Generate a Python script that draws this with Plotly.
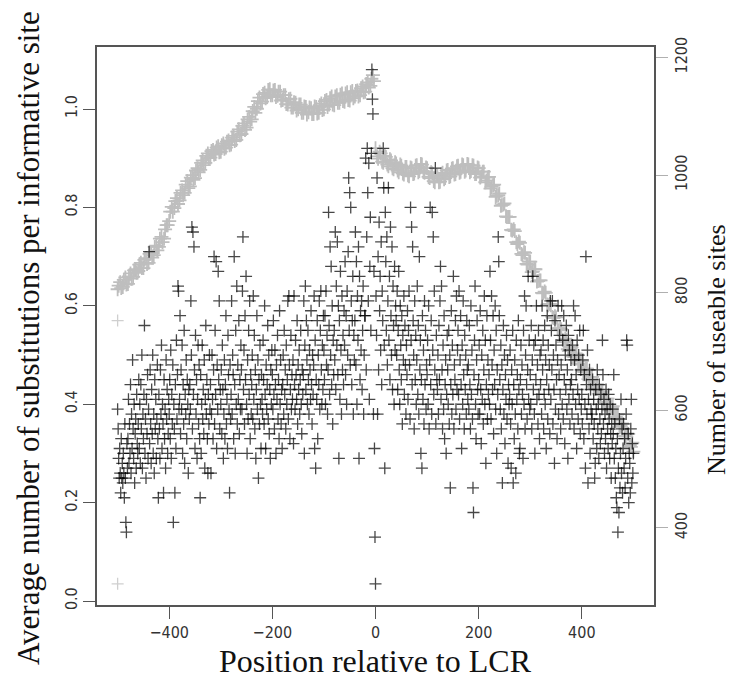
import plotly.graph_objects as go

# Average substitutions per informative site, one value per position (-500 .. 500)
subst_pos = list(range(-500, 501))
subst_vals = [
    # -500 .. -481
    0.39, 0.35, 0.29, 0.25, 0.31, 0.26, 0.22, 0.33, 0.25, 0.28, 0.24, 0.30, 0.26, 0.21, 0.36, 0.25, 0.16, 0.14, 0.32, 0.27,
    # -480 .. -461
    0.33, 0.41, 0.28, 0.36, 0.30, 0.44, 0.26, 0.38, 0.31, 0.49, 0.35, 0.29, 0.40, 0.24, 0.34, 0.37, 0.27, 0.42, 0.32, 0.30,
    # -460 .. -441
    0.36, 0.45, 0.31, 0.40, 0.28, 0.44, 0.35, 0.50, 0.27, 0.38, 0.33, 0.42, 0.56, 0.30, 0.37, 0.25, 0.41, 0.34, 0.46, 0.29,
    # -440 .. -421
    0.39, 0.71, 0.32, 0.47, 0.36, 0.28, 0.43, 0.34, 0.50, 0.30, 0.38, 0.26, 0.45, 0.35, 0.41, 0.29, 0.37, 0.48, 0.33, 0.21,
    # -420 .. -401
    0.42, 0.35, 0.29, 0.47, 0.38, 0.52, 0.31, 0.40, 0.36, 0.22, 0.45, 0.33, 0.39, 0.27, 0.49, 0.37, 0.43, 0.30, 0.34, 0.41,
    # -400 .. -381
    0.38, 0.45, 0.33, 0.51, 0.29, 0.42, 0.36, 0.48, 0.16, 0.40, 0.35, 0.22, 0.44, 0.31, 0.53, 0.37, 0.46, 0.64, 0.63, 0.39,
    # -380 .. -361
    0.41, 0.58, 0.34, 0.47, 0.39, 0.52, 0.30, 0.44, 0.36, 0.55, 0.28, 0.42, 0.38, 0.49, 0.33, 0.45, 0.40, 0.26, 0.43, 0.37,
    # -360 .. -341
    0.44, 0.39, 0.61, 0.50, 0.76, 0.35, 0.75, 0.42, 0.72, 0.47, 0.31, 0.54, 0.38, 0.45, 0.29, 0.41, 0.52, 0.36, 0.48, 0.33,
    # -340 .. -321
    0.21, 0.46, 0.30, 0.40, 0.52, 0.37, 0.43, 0.34, 0.49, 0.27, 0.41, 0.56, 0.38, 0.45, 0.33, 0.26, 0.42, 0.36, 0.50, 0.39,
    # -320 .. -301
    0.44, 0.26, 0.38, 0.50, 0.41, 0.33, 0.47, 0.70, 0.36, 0.55, 0.42, 0.69, 0.31, 0.48, 0.39, 0.67, 0.45, 0.61, 0.35, 0.43,
    # -300 .. -281
    0.40, 0.47, 0.34, 0.52, 0.43, 0.29, 0.38, 0.49, 0.33, 0.44, 0.58, 0.36, 0.41, 0.31, 0.54, 0.46, 0.39, 0.22, 0.48, 0.37,
    # -280 .. -261
    0.42, 0.61, 0.38, 0.50, 0.46, 0.33, 0.70, 0.44, 0.30, 0.55, 0.40, 0.64, 0.36, 0.48, 0.41, 0.57, 0.34, 0.45, 0.39, 0.52,
    # -260 .. -241
    0.47, 0.39, 0.63, 0.74, 0.43, 0.51, 0.36, 0.58, 0.45, 0.66, 0.40, 0.30, 0.49, 0.37, 0.55, 0.42, 0.61, 0.33, 0.46, 0.38,
    # -240 .. -221
    0.44, 0.50, 0.37, 0.62, 0.41, 0.54, 0.35, 0.47, 0.29, 0.43, 0.58, 0.39, 0.49, 0.25, 0.45, 0.36, 0.52, 0.40, 0.31, 0.46,
    # -220 .. -201
    0.41, 0.38, 0.53, 0.45, 0.36, 0.60, 0.42, 0.31, 0.48, 0.39, 0.44, 0.56, 0.37, 0.50, 0.34, 0.43, 0.29, 0.47, 0.40, 0.51,
    # -200 .. -181
    0.46, 0.39, 0.57, 0.42, 0.35, 0.51, 0.44, 0.30, 0.48, 0.41, 0.54, 0.37, 0.45, 0.33, 0.59, 0.40, 0.49, 0.36, 0.43, 0.31,
    # -180 .. -161
    0.44, 0.50, 0.38, 0.55, 0.42, 0.47, 0.35, 0.52, 0.40, 0.45, 0.61, 0.37, 0.62, 0.48, 0.33, 0.43, 0.54, 0.39, 0.46, 0.41,
    # -160 .. -141
    0.49, 0.32, 0.62, 0.44, 0.39, 0.53, 0.46, 0.41, 0.57, 0.36, 0.48, 0.43, 0.51, 0.38, 0.45, 0.55, 0.40, 0.34, 0.47, 0.42,
    # -140 .. -121
    0.46, 0.61, 0.30, 0.52, 0.64, 0.43, 0.57, 0.49, 0.40, 0.55, 0.45, 0.38, 0.51, 0.47, 0.41, 0.59, 0.44, 0.36, 0.50, 0.42,
    # -120 .. -101
    0.48, 0.62, 0.31, 0.53, 0.27, 0.45, 0.41, 0.57, 0.33, 0.50, 0.44, 0.61, 0.39, 0.55, 0.63, 0.47, 0.40, 0.52, 0.43, 0.58,
    # -100 .. -81
    0.51, 0.45, 0.58, 0.40, 0.63, 0.48, 0.54, 0.38, 0.47, 0.79, 0.56, 0.42, 0.72, 0.50, 0.68, 0.44, 0.60, 0.36, 0.53, 0.46,
    # -80 .. -61
    0.55, 0.49, 0.75, 0.43, 0.64, 0.52, 0.73, 0.46, 0.60, 0.29, 0.57, 0.41, 0.67, 0.51, 0.38, 0.62, 0.47, 0.54, 0.44, 0.59,
    # -60 .. -41
    0.52, 0.69, 0.46, 0.58, 0.40, 0.63, 0.50, 0.71, 0.86, 0.55, 0.83, 0.48, 0.80, 0.61, 0.44, 0.57, 0.66, 0.38, 0.54, 0.49,
    # -40 .. -21
    0.57, 0.75, 0.48, 0.69, 0.40, 0.62, 0.53, 0.72, 0.29, 0.66, 0.45, 0.59, 0.51, 0.61, 0.43, 0.55, 0.64, 0.38, 0.50, 0.58,
    # -20 .. -1
    0.58, 0.90, 0.47, 0.74, 0.92, 0.83, 0.61, 0.89, 0.41, 0.68, 0.78, 0.55, 0.91, 1.08, 1.02, 0.99, 0.38, 0.67, 0.31, 0.13,
    # 0 .. 19
    0.035, 0.62, 0.54, 0.86, 0.38, 0.70, 0.47, 0.77, 0.59, 0.66, 0.51, 0.73, 0.44, 0.63, 0.57, 0.92, 0.84, 0.52, 0.27, 0.79,
    # 20 .. 39
    0.69, 0.55, 0.74, 0.48, 0.61, 0.84, 0.53, 0.66, 0.45, 0.76, 0.58, 0.50, 0.72, 0.43, 0.64, 0.56, 0.40, 0.68, 0.51, 0.60,
    # 40 .. 59
    0.57, 0.50, 0.63, 0.43, 0.55, 0.67, 0.47, 0.40, 0.60, 0.52, 0.45, 0.58, 0.36, 0.54, 0.49, 0.62, 0.42, 0.56, 0.48, 0.38,
    # 60 .. 79
    0.52, 0.46, 0.59, 0.41, 0.55, 0.63, 0.48, 0.37, 0.80, 0.53, 0.76, 0.44, 0.72, 0.57, 0.50, 0.35, 0.61, 0.45, 0.54, 0.40,
    # 80 .. 99
    0.49, 0.64, 0.42, 0.56, 0.38, 0.70, 0.47, 0.53, 0.30, 0.45, 0.27, 0.58, 0.41, 0.51, 0.36, 0.61, 0.44, 0.55, 0.39, 0.48,
    # 100 .. 119
    0.46, 0.53, 0.40, 0.60, 0.35, 0.49, 0.80, 0.44, 0.57, 0.38, 0.79, 0.51, 0.74, 0.42, 0.63, 0.47, 0.88, 0.36, 0.54, 0.45,
    # 120 .. 139
    0.43, 0.50, 0.38, 0.56, 0.45, 0.61, 0.68, 0.41, 0.64, 0.47, 0.35, 0.52, 0.39, 0.58, 0.33, 0.44, 0.49, 0.30, 0.42, 0.54,
    # 140 .. 159
    0.47, 0.40, 0.55, 0.36, 0.50, 0.23, 0.44, 0.59, 0.38, 0.52, 0.42, 0.66, 0.35, 0.48, 0.45, 0.57, 0.39, 0.62, 0.43, 0.51,
    # 160 .. 179
    0.55, 0.42, 0.63, 0.37, 0.49, 0.58, 0.44, 0.31, 0.52, 0.40, 0.61, 0.46, 0.35, 0.54, 0.43, 0.50, 0.38, 0.57, 0.47, 0.41,
    # 180 .. 199
    0.48, 0.39, 0.56, 0.44, 0.35, 0.60, 0.42, 0.51, 0.37, 0.23, 0.18, 0.46, 0.53, 0.64, 0.40, 0.33, 0.49, 0.57, 0.43, 0.38,
    # 200 .. 219
    0.45, 0.52, 0.38, 0.59, 0.43, 0.32, 0.50, 0.41, 0.55, 0.36, 0.47, 0.62, 0.40, 0.53, 0.28, 0.44, 0.58, 0.37, 0.49, 0.42,
    # 220 .. 239
    0.46, 0.40, 0.67, 0.53, 0.37, 0.62, 0.48, 0.43, 0.58, 0.34, 0.51, 0.44, 0.60, 0.39, 0.55, 0.30, 0.47, 0.42, 0.74, 0.69,
    # 240 .. 259
    0.58, 0.45, 0.39, 0.52, 0.35, 0.48, 0.24, 0.43, 0.56, 0.38, 0.50, 0.32, 0.46, 0.41, 0.54, 0.37, 0.49, 0.28, 0.44, 0.40,
    # 260 .. 279
    0.42, 0.51, 0.36, 0.27, 0.47, 0.40, 0.55, 0.24, 0.44, 0.33, 0.49, 0.38, 0.26, 0.53, 0.41, 0.46, 0.35, 0.57, 0.43, 0.30,
    # 280 .. 299
    0.31, 0.45, 0.52, 0.38, 0.48, 0.42, 0.29, 0.55, 0.40, 0.62, 0.35, 0.50, 0.60, 0.44, 0.37, 0.47, 0.66, 0.41, 0.53, 0.39,
    # 300 .. 319
    0.46, 0.40, 0.56, 0.35, 0.49, 0.66, 0.43, 0.52, 0.38, 0.30, 0.53, 0.45, 0.60, 0.41, 0.48, 0.36, 0.55, 0.42, 0.33, 0.50,
    # 320 .. 339
    0.44, 0.51, 0.38, 0.60, 0.47, 0.53, 0.35, 0.42, 0.56, 0.40, 0.49, 0.31, 0.45, 0.58, 0.37, 0.52, 0.43, 0.48, 0.34, 0.61,
    # 340 .. 359
    0.41, 0.55, 0.47, 0.61, 0.36, 0.50, 0.43, 0.28, 0.57, 0.39, 0.52, 0.45, 0.33, 0.49, 0.60, 0.38, 0.46, 0.54, 0.42, 0.35,
    # 360 .. 379
    0.48, 0.60, 0.40, 0.53, 0.37, 0.58, 0.45, 0.32, 0.50, 0.43, 0.56, 0.39, 0.47, 0.29, 0.54, 0.41, 0.51, 0.36, 0.44, 0.49,
    # 380 .. 399
    0.45, 0.38, 0.52, 0.42, 0.60, 0.35, 0.49, 0.58, 0.40, 0.46, 0.31, 0.53, 0.43, 0.37, 0.50, 0.41, 0.55, 0.34, 0.47, 0.39,
    # 400 .. 419
    0.42, 0.36, 0.49, 0.55, 0.33, 0.46, 0.40, 0.27, 0.70, 0.44, 0.38, 0.51, 0.24, 0.41, 0.35, 0.47, 0.30, 0.43, 0.39, 0.37,
    # 420 .. 439
    0.38, 0.45, 0.33, 0.41, 0.36, 0.25, 0.28, 0.43, 0.39, 0.31, 0.47, 0.35, 0.40, 0.29, 0.44, 0.37, 0.32, 0.42, 0.34, 0.39,
    # 440 .. 459
    0.53, 0.46, 0.36, 0.41, 0.30, 0.38, 0.33, 0.43, 0.27, 0.39, 0.35, 0.31, 0.42, 0.37, 0.29, 0.40, 0.34, 0.25, 0.36, 0.32,
    # 460 .. 479
    0.39, 0.34, 0.46, 0.29, 0.36, 0.25, 0.31, 0.21, 0.19, 0.33, 0.14, 0.27, 0.18, 0.37, 0.23, 0.30, 0.41, 0.26, 0.35, 0.22,
    # 480 .. 499
    0.31, 0.36, 0.27, 0.33, 0.23, 0.29, 0.38, 0.53, 0.52, 0.25, 0.34, 0.20, 0.30, 0.28, 0.22, 0.35, 0.41, 0.24, 0.32, 0.26,
    # 500
    0.30,
]

# Two faint points at the left edge
faint_pos = [-500, -500]
faint_vals = [0.57, 0.035]

# Number of useable sites upstream of the LCR (positions -500, -495, ... and -498, -493, ...)
sites_up_pos = list(range(-500, 0, 5))
sites_up = [
    806, 818, 810, 826, 815, 833, 827, 840, 837, 851,
    842, 859, 851, 868, 864, 880, 878, 895, 892, 915,
    922, 946, 944, 961, 957, 974, 970, 990, 981, 1000,
    995, 1012, 1009, 1025, 1021, 1037, 1030, 1043, 1036, 1049,
    1040, 1054, 1047, 1059, 1052, 1067, 1060, 1078, 1070, 1088,
    1081, 1099, 1095, 1116, 1113, 1132, 1125, 1140, 1133, 1146,
    1136, 1145, 1135, 1142, 1128, 1136, 1120, 1130, 1115, 1123,
    1112, 1120, 1106, 1116, 1107, 1114, 1104, 1116, 1106, 1122,
    1112, 1128, 1120, 1134, 1119, 1136, 1123, 1139, 1125, 1141,
    1127, 1143, 1134, 1144, 1136, 1151, 1142, 1158, 1152, 1170,
]
sites_up_pos_b = list(range(-498, 0, 5))
sites_up_b = [
    812, 808, 822, 814, 828, 824, 838, 834, 848, 842,
    856, 849, 866, 860, 878, 872, 892, 886, 908, 915,
    938, 938, 956, 951, 970, 966, 984, 978, 996, 992,
    1008, 1005, 1021, 1017, 1033, 1029, 1041, 1035, 1047, 1039,
    1051, 1045, 1057, 1051, 1064, 1058, 1074, 1068, 1084, 1077,
    1095, 1091, 1109, 1106, 1126, 1122, 1138, 1131, 1145, 1136,
    1144, 1133, 1142, 1127, 1136, 1121, 1129, 1115, 1124, 1110,
    1120, 1106, 1117, 1103, 1115, 1104, 1117, 1105, 1119, 1111,
    1126, 1116, 1131, 1120, 1134, 1123, 1137, 1126, 1139, 1128,
    1141, 1131, 1143, 1134, 1148, 1141, 1155, 1149, 1164, 1160,
]

# Number of useable sites downstream of the LCR (positions 0, 5, ... and 3, 8, ...)
sites_down_pos = list(range(0, 501, 5))
sites_down = [
    1046, 1028, 1037, 1021, 1031, 1015, 1025, 1010, 1020, 1005,
    1016, 1001, 1014, 998, 1012, 1003, 1017, 1007, 1018, 1004,
    1012, 995, 1003, 988, 999, 989, 1004, 995, 1009, 998,
    1012, 1002, 1016, 1006, 1017, 1008, 1018, 1007, 1016, 1002,
    1012, 998, 1006, 991, 997, 980, 984, 965, 969, 949,
    952, 929, 929, 906, 905, 883, 885, 864, 868, 848,
    853, 836, 840, 820, 821, 799, 800, 779, 779, 757,
    758, 736, 738, 716, 720, 701, 707, 691, 696, 678,
    684, 665, 671, 651, 657, 638, 644, 626, 632, 613,
    620, 603, 607, 589, 594, 574, 577, 556, 560, 538, 530,
]
sites_down_pos_b = list(range(3, 501, 5))
sites_down_b = [
    1032, 1040, 1023, 1033, 1018, 1027, 1012, 1022, 1008, 1018,
    1003, 1014, 1000, 1013, 1002, 1016, 1005, 1019, 1006, 1013,
    997, 1005, 990, 1000, 988, 1002, 993, 1008, 997, 1011,
    1001, 1015, 1004, 1018, 1006, 1019, 1005, 1017, 1002, 1013,
    996, 1006, 988, 996, 977, 983, 963, 966, 948, 950,
    930, 929, 907, 908, 886, 887, 866, 869, 849, 853,
    835, 840, 819, 821, 800, 802, 780, 781, 759, 760,
    740, 740, 720, 722, 704, 708, 692, 697, 680, 684,
    667, 671, 653, 657, 640, 644, 628, 631, 615, 620,
    600, 606, 587, 593, 572, 578, 556, 561, 541, 545,
]

x_ticks = [-400, -200, 0, 200, 400]
left_ticks = [0.0, 0.2, 0.4, 0.6, 0.8, 1.0]
right_ticks = [400, 600, 800, 1000, 1200]

tick_font = dict(family="DejaVu Sans Condensed, DejaVu Sans, sans-serif", size=16, color="#333333")
serif = "Liberation Serif, DejaVu Serif, serif"

cross = "cross-thin-open"

fig = go.Figure()

# useable-site counts (drawn underneath)
fig.add_trace(go.Scatter(
    x=sites_up_pos + sites_up_pos_b + sites_down_pos + sites_down_pos_b,
    y=sites_up + sites_up_b + sites_down + sites_down_b,
    mode="markers", yaxis="y",
    marker=dict(symbol=cross, size=10, color="#bebebe", line=dict(width=1.8, color="#bebebe")),
    showlegend=False, hoverinfo="skip",
))

# substitution rates
fig.add_trace(go.Scatter(
    x=subst_pos, y=subst_vals, mode="markers", yaxis="y2",
    marker=dict(symbol=cross, size=8.6, color="rgba(0,0,0,0.72)",
                line=dict(width=1.3, color="rgba(0,0,0,0.72)")),
    showlegend=False,
))
fig.add_trace(go.Scatter(
    x=faint_pos, y=faint_vals, mode="markers", yaxis="y2",
    marker=dict(symbol=cross, size=8.6, color="#cfcfcf", line=dict(width=1.3, color="#cfcfcf")),
    showlegend=False,
))

M_L, M_R, M_T, M_B = 97, 76, 47, 81
W, H = 730, 686

fig.update_layout(
    width=W, height=H,
    margin=dict(l=M_L, r=M_R, t=M_T, b=M_B),
    paper_bgcolor="white", plot_bgcolor="white",
    xaxis=dict(
        range=[-540, 540], tickmode="array", tickvals=x_ticks,
        ticks="outside", ticklen=12, tickwidth=1.3, tickcolor="#555555",
        showline=True, linecolor="#555555", linewidth=1.5, mirror=True,
        showgrid=False, zeroline=False, tickfont=tick_font,
    ),
    yaxis=dict(
        range=[269, 1218], side="right", tickmode="array", tickvals=right_ticks,
        ticks="outside", ticklen=12, tickwidth=1.3, tickcolor="#b0b0b0",
        showline=True, linecolor="#555555", linewidth=1.5,
        showgrid=False, zeroline=False, tickfont=tick_font, tickangle=-90,
    ),
    yaxis2=dict(
        range=[-0.008, 1.126], overlaying="y", side="left", tickmode="array",
        tickvals=left_ticks, tickformat=".1f",
        ticks="outside", ticklen=12, tickwidth=1.3, tickcolor="#555555",
        showline=True, linecolor="#555555", linewidth=1.5,
        showgrid=False, zeroline=False, tickfont=tick_font, tickangle=-90,
    ),
)

plot_h = H - M_T - M_B
plot_w = W - M_L - M_R


def py(pix):
    return (H - M_B - pix) / plot_h


def px(pix):
    return (pix - M_L) / plot_w


# axis titles, positioned in pixels
fig.add_annotation(text="Position relative to LCR", x=px(375), y=py(661), xref="paper", yref="paper",
                   showarrow=False, font=dict(family=serif, size=32, color="#111111"),
                   xanchor="center", yanchor="middle")
fig.add_annotation(text="Average number of substitutions per informative site", x=px(28), y=py(338),
                   xref="paper", yref="paper", showarrow=False,
                   font=dict(family=serif, size=31, color="#111111"), textangle=-90,
                   xanchor="center", yanchor="middle")
fig.add_annotation(text="Number of useable sites", x=px(716), y=py(350), xref="paper", yref="paper",
                   showarrow=False, font=dict(family=serif, size=26, color="#111111"), textangle=-90,
                   xanchor="center", yanchor="middle")

fig.write_html("out.html")
